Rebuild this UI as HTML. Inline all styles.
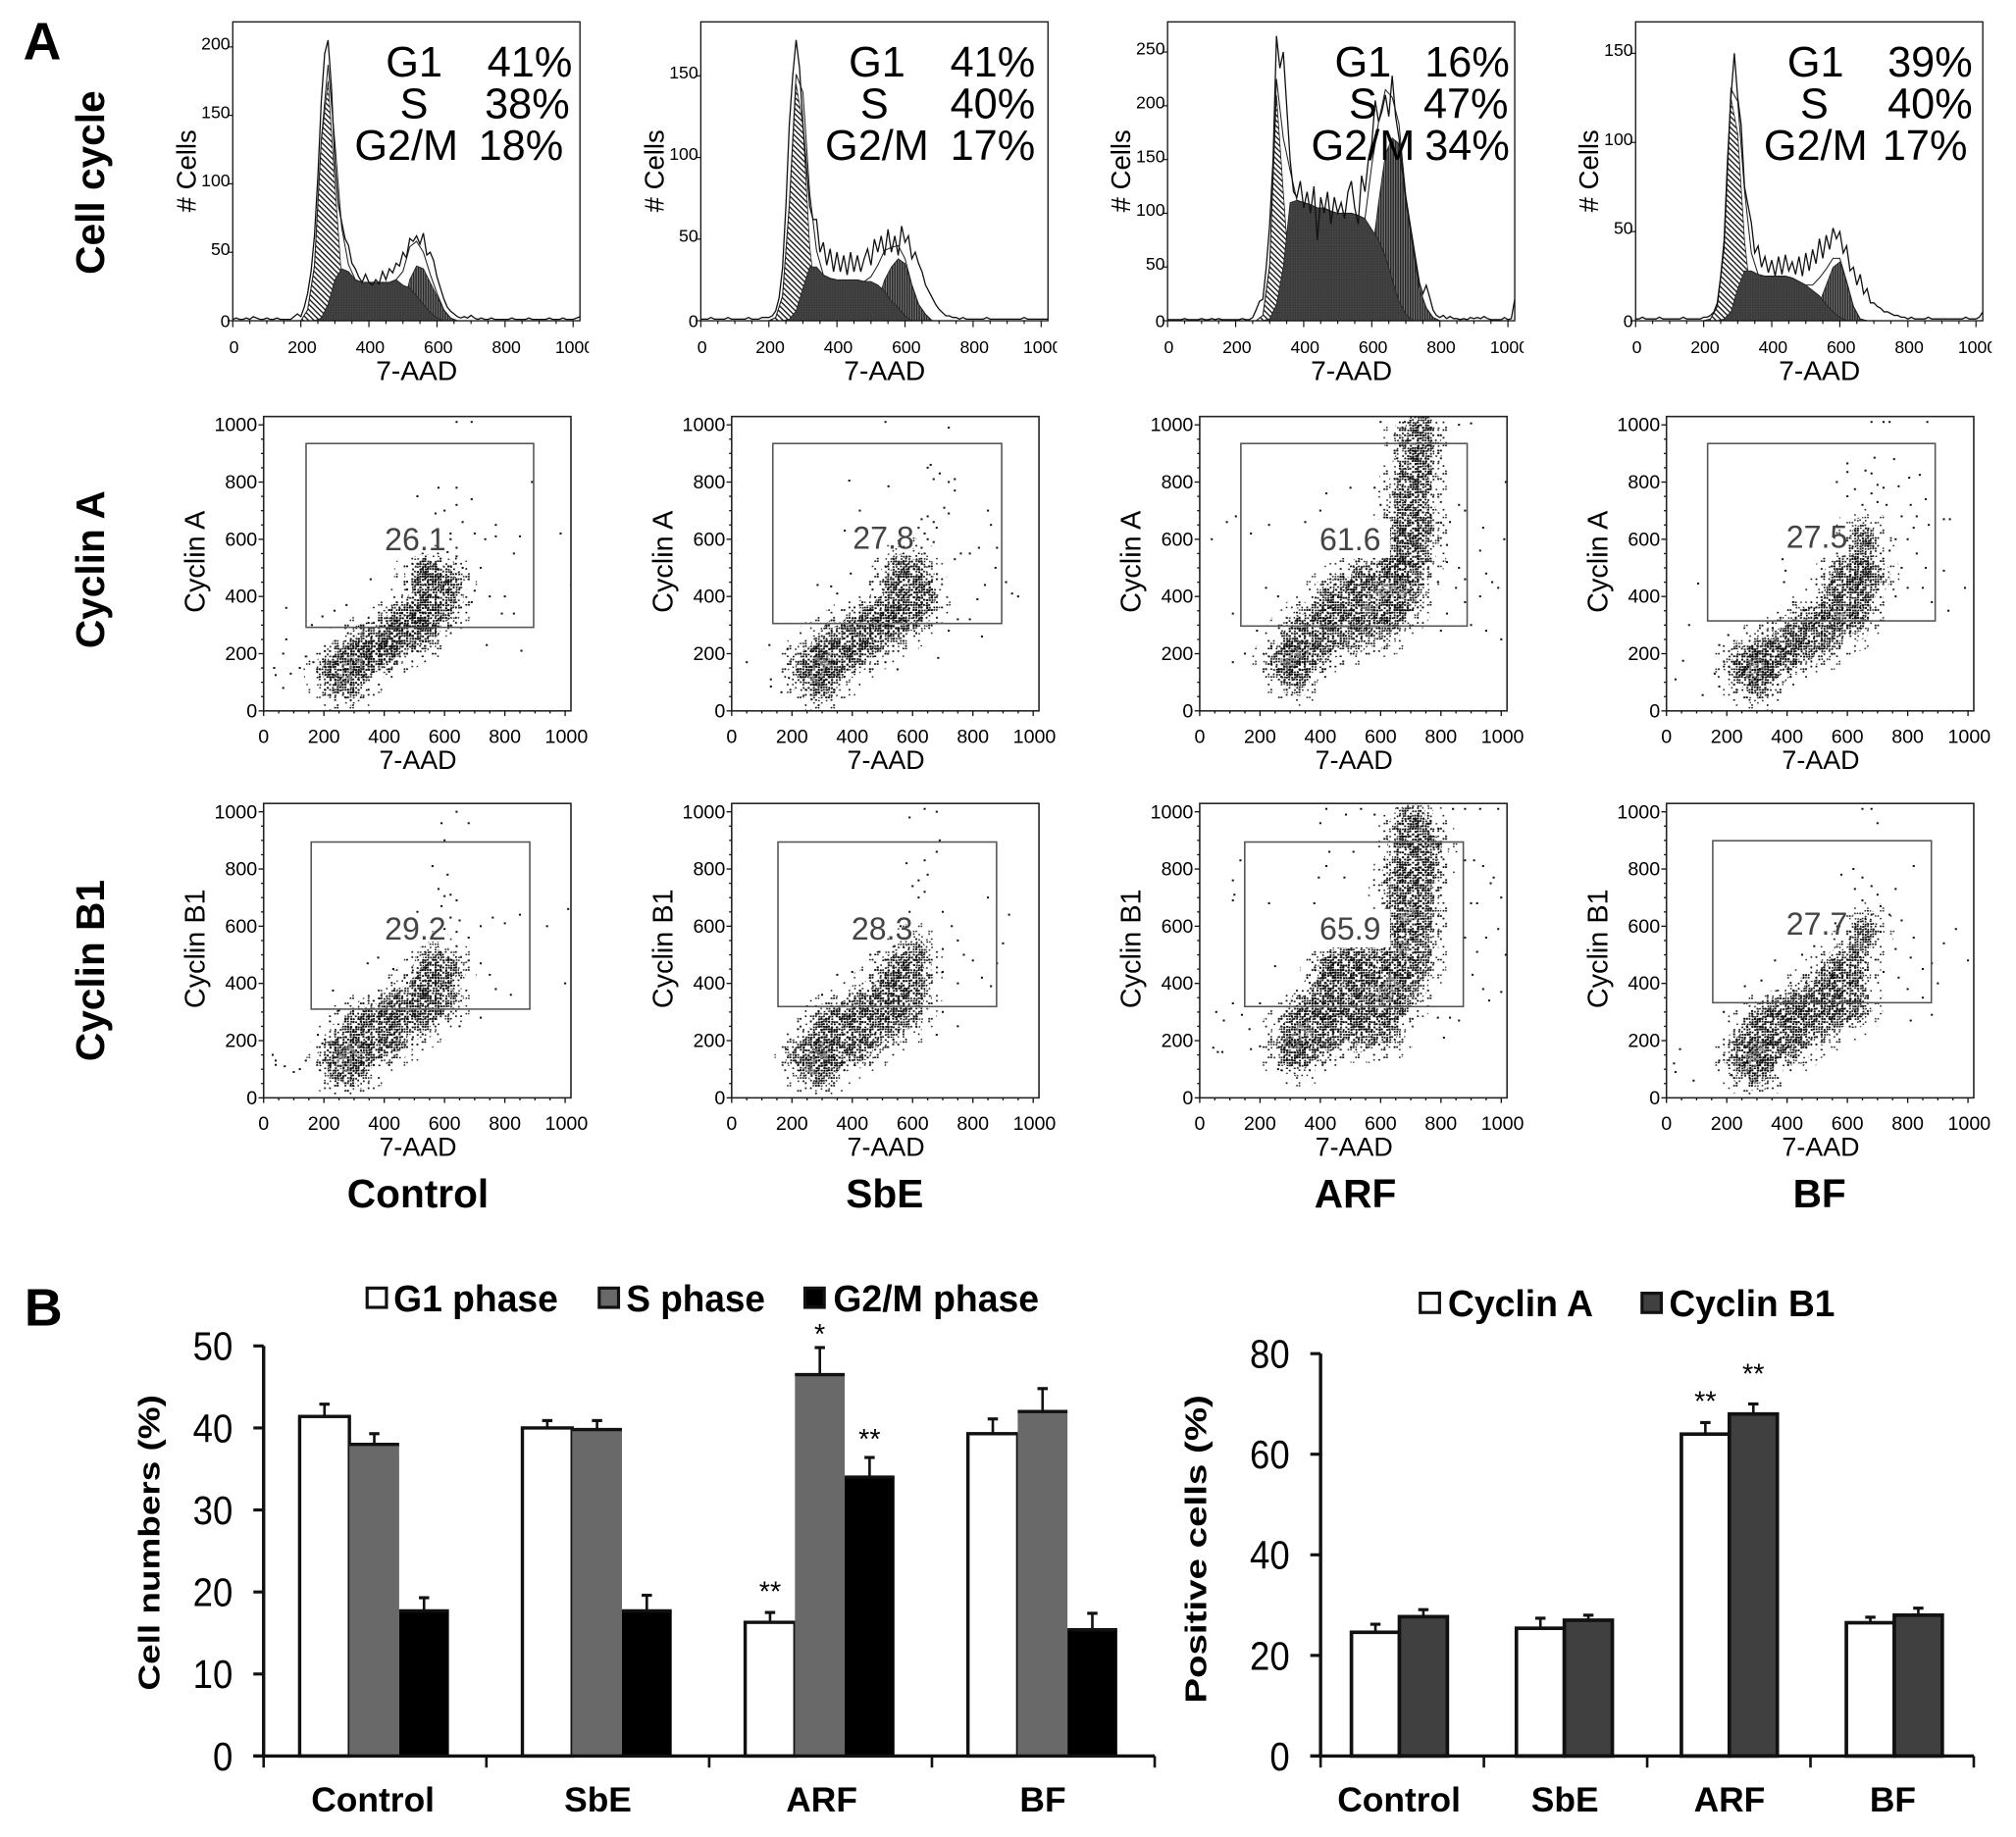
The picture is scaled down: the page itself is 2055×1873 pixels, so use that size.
<!DOCTYPE html>
<html lang="en">
<head>
<meta charset="utf-8">
<title>Cell cycle and cyclin flow cytometry figure</title>
<style>
html,body{margin:0;padding:0;background:#fff}
svg{display:block;font-family:"Liberation Sans",Arial,sans-serif}
</style>
</head>
<body>
<svg id="figure" xmlns="http://www.w3.org/2000/svg" width="2055" height="1873" viewBox="0 0 1567.8 1429">
<defs>
<pattern id="hatch" patternUnits="userSpaceOnUse" width="3" height="3" patternTransform="rotate(45)"><rect width="3" height="3" fill="#fff"/><rect width="3" height="1.1" fill="#222"/></pattern>
<pattern id="sfill" patternUnits="userSpaceOnUse" width="2" height="2"><rect width="2" height="2" fill="#3c3c3c"/><rect width=".7" height=".7" fill="#555"/></pattern>
<pattern id="gfill" patternUnits="userSpaceOnUse" width="1.9" height="2"><rect width="1.9" height="2" fill="#777"/><rect width="1" height="2" fill="#222"/></pattern>
<pattern id="dense" patternUnits="userSpaceOnUse" width="22" height="22"></pattern>
<pattern id="sparse" patternUnits="userSpaceOnUse" width="26" height="26"></pattern>
<pattern id="faint" patternUnits="userSpaceOnUse" width="34" height="34"></pattern>
<pattern id="peak" patternUnits="userSpaceOnUse" width="18" height="18"></pattern>
</defs>
</svg>
<script>
/* ---------- Flow histogram data (raw event counts every 10 units of 7-AAD, 0..1020) ---------- */
const histRawControl=[1,2,1,1,2,1,3,2,1,1,2,1,1,2,1,1,1,1,3,5,3,10,20,36,62,105,160,195,205,170,115,85,72,60,55,42,38,32,28,34,28,26,30,27,36,30,38,35,42,40,50,46,60,58,62,56,64,48,50,44,32,24,16,10,7,5,3,2,3,2,4,2,1,2,1,1,2,1,1,1,1,1,2,1,1,1,1,2,1,1,1,1,1,2,1,1,1,2,1,1,1,2,3];
const histRawSbE=[1,1,1,2,1,1,1,1,2,1,1,1,1,1,2,1,1,1,2,2,2,3,6,14,32,70,120,150,172,155,120,95,70,62,62,42,48,34,44,30,42,30,40,28,42,30,40,30,38,44,34,50,42,52,40,56,42,52,40,58,48,52,38,42,35,30,22,18,14,10,7,5,3,3,2,2,1,2,1,1,1,1,1,1,2,1,1,1,1,1,1,1,1,1,1,2,1,1,1,1,1,1,1];
const histRawARF=[1,1,1,1,1,2,1,1,1,1,2,1,1,2,1,2,1,1,1,1,1,1,2,1,1,3,10,18,20,50,90,150,265,235,250,200,150,120,115,130,105,120,100,125,75,115,100,120,90,115,100,110,95,120,130,105,90,135,120,150,165,205,185,195,210,190,228,190,170,140,115,95,75,55,35,25,33,22,10,5,3,5,2,4,2,2,1,2,1,3,2,3,2,4,2,1,1,1,1,3,1,2,20];
const histRawBF=[1,1,2,1,1,1,1,2,1,1,1,1,1,1,2,1,1,1,1,1,2,2,3,5,10,25,45,90,125,150,125,110,75,65,55,38,42,30,36,27,34,25,36,26,37,28,33,26,36,25,38,28,40,32,46,35,48,40,52,46,50,38,42,28,30,20,26,15,18,10,10,8,7,5,5,4,3,3,2,2,1,2,1,1,1,1,2,1,1,1,1,1,1,1,1,1,1,2,1,1,1,2,5];
/* Modelled phases, at bins 200,220,...,800 */
const phaseBins=[200,220,240,260,280,300,320,340,360,380,400,420,440,460,480,500,520,540,560,580,600,620,640,660,680,700,720,740,760,780,800];
const g1Control=[0,8,40,130,175,100,30,5,0,0,0,0,0,0,0,0,0,0,0,0,0,0,0,0,0,0,0,0,0,0,0];
const sControl=[0,0,0,2,12,30,38,36,30,28,28,28,28,28,30,26,24,18,12,6,2,0,0,0,0,0,0,0,0,0,0];
const g2Control=[0,0,0,0,0,0,0,0,0,0,0,0,0,0,0,10,30,40,38,28,18,8,2,0,0,0,0,0,0,0,0];
const g1SbE=[0,2,15,70,145,120,45,10,0,0,0,0,0,0,0,0,0,0,0,0,0,0,0,0,0,0,0,0,0,0,0];
const sSbE=[0,0,0,1,6,20,33,33,28,26,25,25,25,25,24,24,22,18,12,8,3,0,0,0,0,0,0,0,0,0,0];
const g2SbE=[0,0,0,0,0,0,0,0,0,0,0,0,0,0,0,3,12,25,33,38,35,22,10,4,0,0,0,0,0,0,0];
const g1ARF=[0,0,0,0,5,50,210,120,30,0,0,0,0,0,0,0,0,0,0,0,0,0,0,0,0,0,0,0,0,0,0];
const sARF=[0,0,0,0,0,2,15,50,110,112,110,108,105,105,102,100,100,100,98,95,85,75,60,38,18,6,0,0,0,0,0];
const g2ARF=[0,0,0,0,0,0,0,0,0,0,0,0,0,0,0,0,0,0,0,0,60,110,155,170,165,110,70,30,12,3,0];
const g1BF=[0,1,8,40,125,105,45,10,0,0,0,0,0,0,0,0,0,0,0,0,0,0,0,0,0,0,0,0,0,0,0];
const sBF=[0,0,0,1,5,18,28,28,26,25,25,25,25,24,22,20,17,14,9,5,2,0,0,0,0,0,0,0,0,0,0];
const g2BF=[0,0,0,0,0,0,0,0,0,0,0,0,0,0,0,0,3,10,20,30,33,22,8,1,0,0,0,0,0,0,0];
const histMax=[[200,150,100,50,0],[150,100,50,0],[250,200,150,100,50,0],[150,100,50,0]];
const histPhaseNames=["G1","S","G2/M"];
const histPercent=[["41%","38%","18%"],["41%","40%","17%"],["16%","47%","34%"],["39%","40%","17%"]];
const xTicksFlow=[0,200,400,600,800,1000];
const yTicksFlow=[0,200,400,600,800,1000];

/* ---------- Scatter plots: [7-AAD, cyclin] readings. core = bulk of the cloud, peak = densest area, out = isolated events ---------- */
const aControlCore=[[240,100],[280,85],[230,140],[270,130],[310,125],[250,170],[290,170],[335,160],[285,210],[325,205],[365,175],[370,215],[340,240],[405,210],[410,250],[445,230],[380,260],[450,280],[485,260],[440,310],[490,300],[525,270],[480,340],[520,330],[550,290],[510,380],[550,370],[590,350],[530,430],[570,420],[600,390],[555,480],[590,470],[610,440],[530,480]];
const aControlPeak=[[280,140],[300,165],[265,115]];
const aControlOut=[[35,150],[40,125],[65,80],[75,360],[75,250],[65,200],[90,130],[120,150],[140,190],[165,170],[160,300],[235,350],[275,370],[195,330],[355,460],[510,750],[580,780],[640,780],[570,690],[600,700],[640,720],[690,740],[660,660],[640,570],[620,620],[700,620],[770,650],[735,600],[770,610],[850,610],[830,550],[985,620],[1020,440],[890,800],[640,1010],[690,1010],[740,230],[855,210],[800,400],[830,340],[720,500],[700,420],[750,400],[690,380],[790,340],[620,600],[640,540],[610,555],[660,500],[680,460],[650,430]];
const aSbECore=[[260,110],[290,85],[250,150],[290,130],[330,115],[265,185],[305,170],[345,155],[300,225],[340,215],[380,180],[395,225],[360,260],[430,210],[430,265],[470,240],[400,290],[470,300],[510,275],[460,330],[510,320],[550,290],[510,365],[555,345],[590,320],[540,410],[580,390],[620,370],[550,460],[590,440],[625,420],[570,510],[610,490],[640,400]];
const aSbEPeak=[[290,160],[310,175],[280,125]];
const aSbEOut=[[50,170],[125,230],[185,215],[130,110],[130,85],[165,65],[190,115],[265,40],[285,440],[330,435],[350,410],[390,805],[520,785],[425,700],[375,630],[395,480],[510,1010],[720,990],[660,860],[650,850],[690,830],[670,810],[720,800],[740,810],[740,770],[705,710],[720,690],[650,680],[630,670],[670,660],[680,640],[640,620],[620,640],[650,600],[670,590],[630,570],[640,550],[760,550],[790,550],[740,530],[820,570],[850,700],[860,650],[880,570],[875,500],[840,440],[815,390],[930,410],[950,400],[910,450],[790,320],[750,320],[720,280],[830,260],[685,185],[550,145],[510,170]];
const aARFCore=[[290,130],[330,120],[270,170],[310,165],[350,165],[290,210],[330,210],[375,200],[310,255],[360,255],[410,235],[350,300],[400,290],[450,265],[500,260],[400,340],[450,330],[500,320],[550,290],[600,285],[420,390],[460,380],[510,370],[560,350],[610,345],[650,330],[480,430],[520,420],[570,410],[620,400],[660,390],[680,380],[540,470],[590,450],[640,445],[670,440],[700,430],[620,500],[660,500],[700,490],[650,550],[690,550],[720,540],[660,610],[700,610],[730,600],[670,670],[710,670],[740,660],[680,730],[720,730],[690,790],[730,790],[700,850],[735,850],[710,910],[740,905],[705,965],[740,965],[730,1005]];
const aARFPeak=[[310,190],[290,165],[340,215],[660,420],[610,420],[560,370]];
const aARFOut=[[110,170],[150,200],[190,280],[110,340],[40,600],[120,680],[90,660],[170,620],[230,650],[220,430],[260,400],[350,660],[400,700],[420,760],[500,780],[460,610],[540,600],[600,720],[580,780],[830,660],[860,720],[880,700],[820,580],[860,500],[880,460],[930,560],[950,480],[970,450],[990,430],[930,400],[880,380],[820,340],[800,280],[900,300],[950,280],[1000,250],[1010,600],[1015,800],[940,640],[790,450],[820,520],[850,430],[600,1010],[680,1010],[860,1000],[900,1005]];
const aBFCore=[[265,120],[300,90],[250,160],[290,140],[330,120],[270,190],[310,175],[350,150],[320,220],[360,205],[400,185],[385,250],[420,235],[460,215],[430,280],[480,270],[520,240],[480,325],[520,310],[560,280],[540,360],[580,340],[620,310],[560,410],[600,390],[640,360],[580,460],[620,440],[660,420],[610,510],[650,490],[680,470],[660,560],[650,610]];
const aBFPeak=[[300,160],[285,130],[580,355]];
const aBFOut=[[30,110],[55,175],[75,300],[105,445],[120,55],[160,130],[175,85],[175,230],[205,265],[385,530],[395,490],[390,450],[420,380],[600,865],[600,835],[660,840],[680,830],[690,885],[755,880],[565,800],[625,775],[600,750],[700,790],[720,780],[680,760],[650,720],[700,730],[730,720],[770,785],[805,815],[840,825],[860,740],[810,720],[780,680],[830,680],[820,640],[870,650],[880,380],[760,600],[800,600],[830,550],[860,500],[780,500],[740,560],[720,450],[760,400],[800,430],[850,430],[920,490],[920,670],[940,670],[990,430],[935,350],[680,1010],[720,1010],[740,1010],[865,1010]];
const bControlCore=[[250,100],[285,85],[240,140],[280,130],[320,115],[250,175],[295,170],[340,155],[280,215],[325,210],[375,175],[300,250],[350,250],[405,220],[440,200],[360,290],[410,270],[460,250],[420,320],[470,300],[520,270],[470,350],[520,340],[565,310],[520,390],[560,375],[600,350],[550,430],[590,415],[565,480],[610,450]];
const bControlPeak=[[280,150],[265,120],[300,170]];
const bControlOut=[[40,115],[40,130],[30,150],[70,110],[100,90],[120,100],[140,130],[180,220],[195,190],[250,305],[230,375],[345,470],[380,490],[430,450],[510,650],[560,810],[600,900],[610,780],[580,730],[600,705],[620,710],[640,690],[590,670],[620,630],[650,620],[600,590],[640,580],[680,560],[640,530],[680,480],[720,470],[750,430],[770,380],[820,360],[720,600],[760,630],[800,610],[850,640],[940,600],[1010,660],[1000,400],[640,1000],[590,960],[680,960],[720,280],[650,250]];
const bSbECore=[[255,110],[290,85],[240,150],[285,135],[325,120],[265,180],[305,175],[350,150],[290,225],[335,215],[385,190],[430,170],[320,265],[370,255],[420,230],[470,215],[380,300],[430,290],[480,270],[525,250],[440,340],[490,330],[540,310],[580,280],[500,375],[550,365],[600,345],[520,420],[565,410],[610,395],[560,470],[600,460],[610,510]];
const bSbEPeak=[[280,140],[265,110],[300,165]];
const bSbEOut=[[210,130],[180,170],[220,240],[250,320],[300,360],[350,430],[400,440],[460,500],[490,510],[540,530],[560,600],[590,650],[620,700],[640,720],[600,740],[620,760],[650,780],[580,820],[640,830],[680,860],[690,900],[590,980],[640,1010],[680,1000],[700,650],[730,600],[750,550],[700,520],[770,500],[800,480],[700,440],[750,400],[830,420],[860,390],[880,470],[900,540],[850,700],[920,640],[700,300],[750,250],[680,220]];
const bARFCore=[[300,150],[335,140],[290,190],[330,185],[370,170],[300,230],[340,225],[385,215],[430,205],[330,275],[375,270],[420,255],[470,240],[520,225],[570,225],[620,230],[360,320],[405,315],[455,300],[505,285],[555,270],[605,265],[395,365],[445,355],[495,345],[545,335],[595,320],[645,310],[425,410],[475,400],[525,390],[575,380],[625,365],[675,350],[430,455],[460,450],[510,440],[560,430],[610,420],[660,410],[695,400],[470,490],[520,490],[570,490],[630,470],[680,465],[720,450],[640,530],[685,525],[730,510],[645,590],[690,585],[735,575],[650,650],[695,645],[740,635],[655,710],[700,705],[740,695],[665,770],[705,765],[745,760],[675,830],[715,825],[755,820],[685,890],[725,885],[765,880],[690,945],[730,940],[710,995]];
const bARFPeak=[[330,210],[310,190],[350,240],[640,400],[610,360],[670,520],[690,640]];
const bARFOut=[[45,175],[55,300],[60,160],[80,270],[75,160],[110,330],[110,690],[110,760],[115,710],[135,830],[140,290],[165,240],[200,330],[230,680],[250,460],[170,170],[200,180],[260,100],[400,960],[420,1010],[485,990],[535,1010],[430,860],[420,810],[380,680],[395,770],[520,630],[480,770],[510,860],[580,990],[880,830],[910,830],[940,810],[975,770],[965,750],[900,680],[920,680],[1000,700],[880,560],[920,510],[950,560],[990,590],[905,430],[940,380],[960,340],[1000,370],[1015,500],[830,280],[860,270],[790,280],[810,210],[840,1010],[880,1010],[930,1010],[990,1010]];
const bBFCore=[[265,110],[300,90],[250,150],[290,135],[330,125],[265,190],[305,175],[345,160],[285,235],[330,220],[375,200],[420,180],[320,275],[365,260],[410,240],[460,225],[370,310],[420,290],[465,275],[510,250],[430,340],[475,325],[525,310],[570,285],[490,370],[530,360],[575,340],[620,310],[530,410],[575,395],[620,370],[570,450],[615,430],[610,490],[640,540],[660,590]];
const bBFPeak=[[290,145],[270,120],[305,170]];
const bBFOut=[[25,120],[30,90],[45,170],[90,60],[175,130],[215,80],[190,300],[260,390],[315,410],[360,480],[450,500],[490,530],[560,610],[580,780],[620,800],[650,1010],[680,1010],[700,960],[625,730],[650,770],[680,740],[700,710],[650,690],[710,670],[680,640],[710,580],[740,640],[780,620],[820,560],[760,520],[810,490],[850,450],[880,470],[720,440],[770,420],[800,380],[850,350],[900,400],[880,290],[810,270],[920,540],[960,590],[1000,480],[760,730],[820,810]];
const gateLabels=[["26.1","27.8","61.6","27.5"],["29.2","28.3","65.9","27.7"]];

/* ---------- Bar chart B-left ---------- */
const groupLabels=["Control","SbE","ARF","BF"];
const g1Percent=[41.4,40,16.3,39.3];
const sPercent=[38,39.8,46.5,42];
const g2mPercent=[17.7,17.7,34,15.4];
const g1ErrorTop=[42.9,40.9,17.5,41.1];
const sErrorTop=[39.3,40.9,49.8,44.8];
const g2mErrorTop=[19.3,19.6,36.4,17.4];
const cellTicks=[0,10,20,30,40,50];
/* ---------- Bar chart B-right ---------- */
const cyclinAPercent=[24.6,25.4,64,26.5];
const cyclinB1Percent=[27.7,27,68,28];
const cyclinAErrorTop=[26.2,27.4,66.3,27.6];
const cyclinB1ErrorTop=[29.1,28,70,29.4];
const positiveTicks=[0,20,40,60,80];
const rowTitles=["Cell cycle","Cyclin A","Cyclin B1"];

const NS="http://www.w3.org/2000/svg";
const svg=document.getElementById("figure");
function mk(tag,attrs,parent,text){
  const e=document.createElementNS(NS,tag);
  for(const k in attrs)e.setAttribute(k,attrs[k]);
  if(text!==undefined)e.textContent=text;
  (parent||svg).appendChild(e);
  return e;
}
/* Speckle textures (decorative grain used inside the event clouds) */
function stipple(id,size,cell,keep,color,w){
  const p=document.getElementById(id);
  const n=Math.floor(size/cell);
  for(let gx=0;gx<n;gx++){
    for(let gy=0;gy<n;gy++){
      const h=(gx*gx*7+gy*gy*3+gy*13+gx*gy*5)%11;
      if(h<keep){
        mk("rect",{x:gx*cell+(h%3)*.25,y:gy*cell+((h*2)%3)*.25,width:w,height:w*.9,fill:color},p);
      }
    }
  }
}
stipple("dense",22,2,8,"#0a0a0a",1.4);
stipple("sparse",26,2,3,"#111",1.2);
stipple("faint",34,2,1,"#111",1.2);
stipple("peak",18,2,6,"#808080",1.5);

function axisLine(x1,y1,x2,y2,w,parent,color){
  return mk("line",{x1,y1,x2,y2,stroke:color||"#111","stroke-width":w},parent);
}

/* ---------- Panel A headings ---------- */
const panelA=mk("text",{x:18,y:46,"font-size":41,"font-weight":"bold"},svg,"A");


const panelB=mk("text",{x:19,y:1031,"font-size":41,"font-weight":"bold"},svg,"B");


const rowCenters=[142,443,755];
rowTitles.forEach((t,i)=>{
  const r=mk("text",{transform:`translate(81,${rowCenters[i]}) rotate(-90)`,"text-anchor":"middle","font-size":31,"font-weight":"bold"},svg,t);
  
  
});
const colCenters=[325,688,1054,1415];
groupLabels.forEach((t,i)=>{
  const c=mk("text",{x:colCenters[i],y:939,"text-anchor":"middle","font-size":31,"font-weight":"bold"},svg,t);
  
  
});

/* ---------- Histograms ---------- */
const histPanels=[
 {left:181,raw:histRawControl,g1:g1Control,s:sControl,g2:g2Control,unit:1.065,cols:[322,322,316],pct:[412,410,405]},
 {left:545,raw:histRawSbE,g1:g1SbE,s:sSbE,g2:g2SbE,unit:1.27,cols:[682,680,682],pct:[772,772,772]},
 {left:908,raw:histRawARF,g1:g1ARF,s:sARF,g2:g2ARF,unit:.836,cols:[1060,1060,1060],pct:[1141,1140,1141]},
 {left:1272,raw:histRawBF,g1:g1BF,s:sBF,g2:g2BF,unit:1.387,cols:[1412,1411,1412],pct:[1501,1501,1497]}
];
const HW=270,HB=249.5,HT=17;
const cx=0.2647;
histPanels.forEach((p,pi)=>{
  const g=mk("g",{},svg);
  
  
  const xS=v=>p.left+v*cx, yS=v=>HB-v*p.unit;
  const clipId="hc"+pi;
  const cp=mk("clipPath",{id:clipId},svg);
  mk("rect",{x:p.left,y:HT,width:HW,height:HB-HT+1},cp);
  const labelClipId="hl"+pi;
  const lc=mk("clipPath",{id:labelClipId},svg);
  mk("rect",{x:p.left-20,y:HB,width:HW+27,height:30},lc);
  const area=(vals)=>{
    let d=`M${xS(phaseBins[0])} ${HB}`;
    vals.forEach((v,i)=>{d+=`L${xS(phaseBins[i])} ${yS(v)}`;});
    return d+`L${xS(phaseBins[phaseBins.length-1])} ${HB}Z`;
  };
  const inner=mk("g",{"clip-path":`url(#${clipId})`},g);
  const g1Area=mk("path",{d:area(p.g1),fill:"url(#hatch)",stroke:"#222","stroke-width":.6},inner);
  
  
  const g2Area=mk("path",{d:area(p.g2),fill:"url(#gfill)",stroke:"#222","stroke-width":.6},inner);
  
  
  const sArea=mk("path",{d:area(p.s),fill:"url(#sfill)",stroke:"#222","stroke-width":.6},inner);
  
  
  const fitLine=mk("polyline",{points:phaseBins.map((b,i)=>`${xS(b)},${yS(p.g1[i]+p.s[i]+p.g2[i])}`).join(" "),fill:"none",stroke:"#222","stroke-width":.8},inner);
  
  
  const rawLine=mk("polyline",{points:p.raw.map((v,i)=>`${xS(i*10)},${yS(v)}`).join(" "),fill:"none",stroke:"#111","stroke-width":1},inner);
  
  
  const frame=mk("rect",{x:p.left,y:HT,width:HW,height:HB-HT,fill:"none",stroke:"#111","stroke-width":1},g);
  
  
  for(let v=0;v<=1000;v+=50){
    const tk=axisLine(xS(v),HB,xS(v),HB+(v%200?2.5:5),.9,g);
    
    
  }
  xTicksFlow.forEach(v=>{
    const t=mk("text",{x:xS(v)+1,y:HB+25,"text-anchor":"middle","font-size":13.5,"clip-path":`url(#${labelClipId})`},g,String(v));
    
    
  });
  histMax[pi].forEach(v=>{
    const tk=axisLine(p.left-4,yS(v),p.left,yS(v),.9,g);
    
    
    const t=mk("text",{x:p.left-2,y:yS(v)+(v?2:5),"text-anchor":"end","font-size":13.5},g,String(v));
    
    
  });
  const xt=mk("text",{x:p.left+143,y:295.5,"text-anchor":"middle","font-size":21.5},g,"7-AAD");
  
  
  const yt=mk("text",{transform:`translate(${p.left-29},133) rotate(-90)`,"text-anchor":"middle","font-size":21},g,"# Cells");
  
  
  histPhaseNames.forEach((n,i)=>{
    const yy=59.5+i*32.5;
    const a=mk("text",{x:p.cols[i],y:yy,"text-anchor":"middle","font-size":33},g,n);
    
    
    const b=mk("text",{x:p.pct[i],y:yy,"text-anchor":"middle","font-size":33},g,histPercent[pi][i]);
    
    
  });
});

/* ---------- Scatter plots ---------- */
const scatterPanels=[
 {left:205,top:324,lab:"Cyclin A",gate:[238,345,415,488],label:[323,0,0],labelY:428,core:aControlCore,peak:aControlPeak,out:aControlOut},
 {left:569,top:324,lab:"Cyclin A",gate:[601,345,779,485],label:[687,0,1],labelY:427,core:aSbECore,peak:aSbEPeak,out:aSbEOut},
 {left:933,top:324,lab:"Cyclin A",gate:[965,345,1141,487],label:[1050,0,2],labelY:428,core:aARFCore,peak:aARFPeak,out:aARFOut,white:true},
 {left:1296,top:324,lab:"Cyclin A",gate:[1328,345,1505,483],label:[1413,0,3],labelY:426,core:aBFCore,peak:aBFPeak,out:aBFOut},
 {left:205,top:625,lab:"Cyclin B1",gate:[242,655,412,785],label:[323,1,0],labelY:731,core:bControlCore,peak:bControlPeak,out:bControlOut},
 {left:569,top:625,lab:"Cyclin B1",gate:[605,655,775,783],label:[686,1,1],labelY:731,core:bSbECore,peak:bSbEPeak,out:bSbEOut},
 {left:933,top:625,lab:"Cyclin B1",gate:[968,655,1138,783],label:[1050,1,2],labelY:731,core:bARFCore,peak:bARFPeak,out:bARFOut,white:true},
 {left:1296,top:625,lab:"Cyclin B1",gate:[1332,654,1502,780],label:[1413,1,3],labelY:727,core:bBFCore,peak:bBFPeak,out:bBFOut}
];
scatterPanels.forEach((p,pi)=>{
  const W=239,H=229;
  const g=mk("g",{},svg);
  
  
  const B=p.top+H;
  const xS=v=>p.left+v*.2345, yS=v=>B-v*.2225;
  const cid="sc"+pi;
  const cp=mk("clipPath",{id:cid},svg);
  mk("rect",{x:p.left,y:p.top,width:W,height:H},cp);
  const pts=mk("g",{"clip-path":`url(#${cid})`},g);
  p.core.forEach(c=>{
    const fringe=mk("circle",{cx:xS(c[0]),cy:yS(c[1]),r:23,fill:"url(#faint)"},pts);
    
    
  });
  p.core.forEach(c=>{
    const halo=mk("circle",{cx:xS(c[0]),cy:yS(c[1]),r:15,fill:"url(#sparse)"},pts);
    
    
  });
  p.core.forEach(c=>{
    const d=mk("circle",{cx:xS(c[0]),cy:yS(c[1]),r:9,fill:"url(#dense)"},pts);
    
    
  });
  p.peak.forEach(c=>{
    const d=mk("circle",{cx:xS(c[0]),cy:yS(c[1]),r:7,fill:"url(#peak)"},pts);
    
    
  });
  p.out.forEach(c=>{
    const d=mk("rect",{x:xS(c[0])-.8,y:yS(c[1])-.8,width:1.6,height:1.5,fill:"#111"},pts);
    
    
  });
  const gate=mk("rect",{x:p.gate[0],y:p.gate[1],width:p.gate[2]-p.gate[0],height:p.gate[3]-p.gate[1],fill:"none",stroke:"#555","stroke-width":1.2},g);
  
  
  if(p.white){
    const w=mk("rect",{x:p.label[0]-31,y:p.labelY-24,width:62,height:30,fill:"#fff"},g);
    
    
  }
  const lab=mk("text",{x:p.label[0],y:p.labelY,"text-anchor":"middle","font-size":24.5,fill:"#444"},g,gateLabels[p.label[1]][p.label[2]]);
  
  
  const frame=mk("rect",{x:p.left,y:p.top,width:W,height:H,fill:"none",stroke:"#222","stroke-width":1.2},g);
  
  
  for(let v=0;v<=1000;v+=50){
    const tx=axisLine(xS(v),B,xS(v),B+(v%200?2:4),1,g);
    
    
    const ty=axisLine(p.left-(v%200?2:4),yS(v),p.left,yS(v),1,g);
    
    
  }
  xTicksFlow.forEach(v=>{
    const t=mk("text",{x:xS(v)+(v==1000?1:0),y:B+25,"text-anchor":"middle","font-size":15},g,String(v));
    
    
  });
  yTicksFlow.forEach(v=>{
    const t=mk("text",{x:p.left-5,y:yS(v)+5,"text-anchor":"end","font-size":15},g,String(v));
    
    
  });
  const xt=mk("text",{x:p.left+120,y:B+45,"text-anchor":"middle","font-size":20.5},g,"7-AAD");
  
  
  const yt=mk("text",{transform:`translate(${p.left-46},${p.top+113}) rotate(-90)`,"text-anchor":"middle","font-size":22},g,p.lab);
  
  
});

/* ---------- Bar charts ---------- */
function barChart(cfg){
  const g=mk("g",{},svg);
  
  
  const yS=v=>cfg.y0-(v/cfg.yMax)*(cfg.y0-cfg.yTop);
  const n=groupLabels.length, step=(cfg.x1-cfg.x0)/n;
  cfg.series.forEach((s,si)=>{
    s.values.forEach((v,gi)=>{
      const x=cfg.x0+step*gi+cfg.pad+gi*cfg.drift+si*cfg.barW;
      const eb=mk("line",{x1:x+cfg.barW/2,x2:x+cfg.barW/2,y1:yS(v),y2:yS(s.err[gi]),stroke:"#111","stroke-width":2},g);
      
      
      const cap=mk("line",{x1:x+cfg.barW/2-4,x2:x+cfg.barW/2+4,y1:yS(s.err[gi]),y2:yS(s.err[gi]),stroke:"#111","stroke-width":2.4},g);
      
      
      const r=mk("rect",{x:x,y:yS(v),width:cfg.barW,height:cfg.y0-yS(v),fill:s.fill,stroke:"#111","stroke-width":s.sw},g);
      
      
      if(s.topLine){
        const tl=mk("line",{x1:x,x2:x+cfg.barW,y1:yS(v),y2:yS(v),stroke:"#111","stroke-width":2.6},g);
        
        
      }
      if(s.stars&&s.stars[gi]){
        const st=mk("text",{x:x+cfg.barW/2,y:yS(s.err[gi])-s.starGap,"text-anchor":"middle","font-size":22},g,s.stars[gi]);
        
        
      }
    });
  });
  const ya=axisLine(cfg.x0,cfg.y0+1,cfg.x0,cfg.yTop,2.6,g);
  
  
  const xa=axisLine(cfg.x0-8,cfg.y0,cfg.x1,cfg.y0,2.6,g);
  
  
  for(let i=0;i<=n;i++){
    const tk=axisLine(cfg.x0+step*i,cfg.y0,cfg.x0+step*i,cfg.y0+9,2,g);
    
    
  }
  cfg.ticks.forEach(v=>{
    const tk=axisLine(cfg.x0-8,yS(v),cfg.x0,yS(v),2.4,g);
    
    
    const label=String(v);
    const t=mk("text",{x:cfg.x0-24,y:yS(v)+11,"text-anchor":"end","font-size":31,textLength:label.length*15.5,lengthAdjust:"spacingAndGlyphs"},g,label);
    
    
  });
  groupLabels.forEach((l,i)=>{
    const t=mk("text",{x:cfg.labelX[i],y:1409,"text-anchor":"middle","font-size":27,"font-weight":"bold"},g,l);
    
    
  });
  const yt=mk("text",{transform:`translate(${cfg.titleX},${cfg.titleY}) rotate(-90)`,"text-anchor":"middle","font-size":23,"font-weight":"bold",textLength:cfg.titleLen,lengthAdjust:"spacingAndGlyphs"},g,cfg.title);
  
  
  cfg.legend.forEach(L=>{
    const sw=mk("rect",{x:L.box,y:cfg.legendY-8,width:15,height:15,fill:L.fill,stroke:"#111","stroke-width":2.4},g);
    
    
    const t=mk("text",{x:L.x,y:cfg.legendY+10,"font-size":29,"font-weight":"bold",textLength:L.len,lengthAdjust:"spacingAndGlyphs"},g,L.text);
    
    
  });
}
barChart({name:"cell-phase-bar-chart",x0:205,x1:898,y0:1366,yTop:1047,yMax:50,pad:28,drift:0,barW:38.7,ticks:cellTicks,
  labelX:[290,465,639,811],title:"Cell numbers (%)",titleX:124,titleY:1200,titleLen:230,legendY:1010,
  series:[
   {key:"g1-phase",values:g1Percent,err:g1ErrorTop,fill:"#fff",sw:2.6,stars:[0,0,"**",0],starGap:9},
   {key:"s-phase",values:sPercent,err:sErrorTop,fill:"#696969",sw:0,topLine:true,stars:[0,0,"*",0],starGap:3},
   {key:"g2m-phase",values:g2mPercent,err:g2mErrorTop,fill:"#000",sw:0,topLine:true,stars:[0,0,"**",0],starGap:7}
  ],
  legend:[
   {box:285.5,fill:"#fff",x:306,len:128,text:"G1 phase"},
   {box:466,fill:"#696969",x:487,len:108,text:"S phase"},
   {box:626,fill:"#000",x:648,len:160,text:"G2/M phase"}
  ]});
barChart({name:"cyclin-positive-bar-chart",x0:1027,x1:1535,y0:1366,yTop:1053,yMax:80,pad:24,drift:1.3,barW:37.3,ticks:positiveTicks,
  labelX:[1088,1217,1345,1472],title:"Positive cells (%)",titleX:938,titleY:1205,titleLen:240,legendY:1014,
  series:[
   {key:"cyclin-a",values:cyclinAPercent,err:cyclinAErrorTop,fill:"#fff",sw:2.8,stars:[0,0,"**",0],starGap:9},
   {key:"cyclin-b1",values:cyclinB1Percent,err:cyclinB1ErrorTop,fill:"#404040",sw:2.8,stars:[0,0,"**",0],starGap:16}
  ],
  legend:[
   {box:1104.5,fill:"#fff",x:1126,len:113,text:"Cyclin A"},
   {box:1277,fill:"#404040",x:1298,len:129,text:"Cyclin B1"}
  ]});
</script>
</body>
</html>
